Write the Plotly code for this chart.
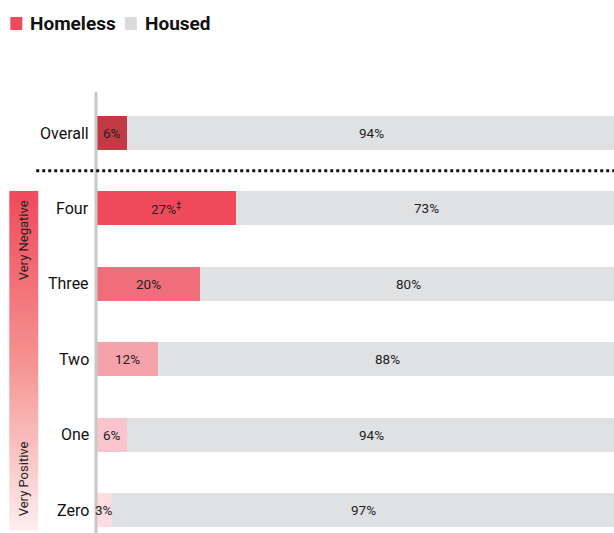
import plotly.graph_objects as go

categories = ["Overall", "Four", "Three", "Two", "One", "Zero"]
homeless = [6, 27, 20, 12, 6, 3]
housed = [94, 73, 80, 88, 94, 97]
homeless_labels = ["6%", "27%<sup>‡</sup>", "20%", "12%", "6%", "3%"]
housed_labels = ["94%", "73%", "80%", "88%", "94%", "97%"]
homeless_colors = ["#c13a44", "#ef4a5c", "#f06e7c", "#f5a2ab", "#f9c4cb", "#fddde1"]
housed_color = "#e0e1e2"
scale_top = "Very Negative"
scale_bottom = "Very Positive"

ypos = list(range(len(categories)))
W, H = 614, 533
L, T = 96, 92
R_EDGE = 616
B_EDGE = 533
pw, ph = R_EDGE - L, B_EDGE - T

def px_x(p):
    return (p - L) / pw

def px_y(p):
    return 1 - (p - T) / ph

fig = go.Figure()
fig.add_trace(go.Bar(y=ypos, x=homeless, orientation="h", marker=dict(color=homeless_colors, line=dict(width=0)),
                     width=0.45, name="Homeless", hoverinfo="x+name"))
fig.add_trace(go.Bar(y=ypos, x=housed, orientation="h", marker=dict(color=housed_color, line=dict(width=0)),
                     width=0.45, name="Housed", hoverinfo="x+name"))

ann = []
lab_font = dict(family="Roboto", size=13.5, color="#222")
for i, (h, o) in enumerate(zip(homeless, housed)):
    ann.append(dict(x=h / 2, y=ypos[i], text=homeless_labels[i], showarrow=False, font=lab_font,
                    xanchor="center", yanchor="middle"))
    ann.append(dict(x=h + o / 2, y=ypos[i], text=housed_labels[i], showarrow=False, font=lab_font,
                    xanchor="center", yanchor="middle"))
    ann.append(dict(x=px_x(91), xref="paper", y=ypos[i], text=categories[i], showarrow=False,
                    font=dict(family="Roboto", size=16, color="#111"), xanchor="right", yanchor="middle"))

# legend
ann.append(dict(x=px_x(28), xref="paper", y=px_y(24), yref="paper", text="<b>Homeless</b>", showarrow=False,
                font=dict(family="Roboto", size=19, color="#111"), xanchor="left", yanchor="middle"))
ann.append(dict(x=px_x(143), xref="paper", y=px_y(24), yref="paper", text="<b>Housed</b>", showarrow=False,
                font=dict(family="Roboto", size=19, color="#111"), xanchor="left", yanchor="middle"))

# scale text
ann.append(dict(x=px_x(23), xref="paper", y=px_y(240), yref="paper", text=scale_top, textangle=-90, showarrow=False,
                font=dict(family="Roboto", size=13, color="#222"), xanchor="center", yanchor="middle"))
ann.append(dict(x=px_x(23), xref="paper", y=px_y(479), yref="paper", text=scale_bottom, textangle=-90, showarrow=False,
                font=dict(family="Roboto", size=13, color="#222"), xanchor="center", yanchor="middle"))

shapes = []

def hex2rgb(h):
    h = h.lstrip("#")
    return [int(h[i:i + 2], 16) for i in (0, 2, 4)]

stops = [(0.0, hex2rgb("#ef4a5c")), (0.5, hex2rgb("#f5928f")), (1.0, hex2rgb("#fdeeee"))]

def grad(t):
    for (t0, c0), (t1, c1) in zip(stops[:-1], stops[1:]):
        if t <= t1:
            f = (t - t0) / (t1 - t0)
            return "rgb(%d,%d,%d)" % tuple(round(a + (b - a) * f) for a, b in zip(c0, c1))
    return "rgb(%d,%d,%d)" % tuple(stops[-1][1])

g_top, g_bot, n = 191, 530, 113
step = (g_bot - g_top) / n
for k in range(n):
    y0 = g_top + k * step
    shapes.append(dict(type="rect", xref="paper", yref="paper", x0=px_x(9), x1=px_x(38),
                       y0=px_y(y0 + step + 0.6), y1=px_y(y0), fillcolor=grad((k + 0.5) / n),
                       line=dict(width=0), layer="above"))

# legend squares
shapes.append(dict(type="rect", xref="paper", yref="paper", x0=px_x(10), x1=px_x(22), y0=px_y(30), y1=px_y(17),
                   fillcolor=homeless_colors[1], line=dict(width=0)))
shapes.append(dict(type="rect", xref="paper", yref="paper", x0=px_x(125), x1=px_x(137), y0=px_y(30), y1=px_y(17),
                   fillcolor="#d9dadb", line=dict(width=0)))
# vertical axis line
shapes.append(dict(type="line", xref="paper", yref="paper", x0=px_x(96), x1=px_x(96), y0=0, y1=1,
                   line=dict(color="#c8c8c8", width=3), layer="above"))
# dotted separator
shapes.append(dict(type="line", xref="paper", yref="y", x0=px_x(36), x1=1, y0=0.5, y1=0.5,
                   line=dict(color="#111", width=3, dash="dot"), layer="above"))

# y positions: Overall at page 133, Zero at page 510
y_first, y_last = 133, 510
spacing = (y_last - y_first) / (len(categories) - 1)
y_top_val = -((y_first - T) / spacing)
y_bot_val = (len(categories) - 1) + (B_EDGE - y_last) / spacing

fig.update_layout(
    width=W, height=H, barmode="stack", showlegend=False,
    margin=dict(l=L, r=0, t=T, b=H - B_EDGE),
    paper_bgcolor="white", plot_bgcolor="white",
    xaxis=dict(range=[0, 100 * (W - L) / pw], visible=False, fixedrange=True),
    yaxis=dict(range=[y_bot_val, y_top_val], visible=False, fixedrange=True),
    annotations=ann, shapes=shapes,
)
fig.write_html("out.html", config={"displayModeBar": False},
               post_script="document.body.style.margin='0';document.body.style.overflow='hidden';")
